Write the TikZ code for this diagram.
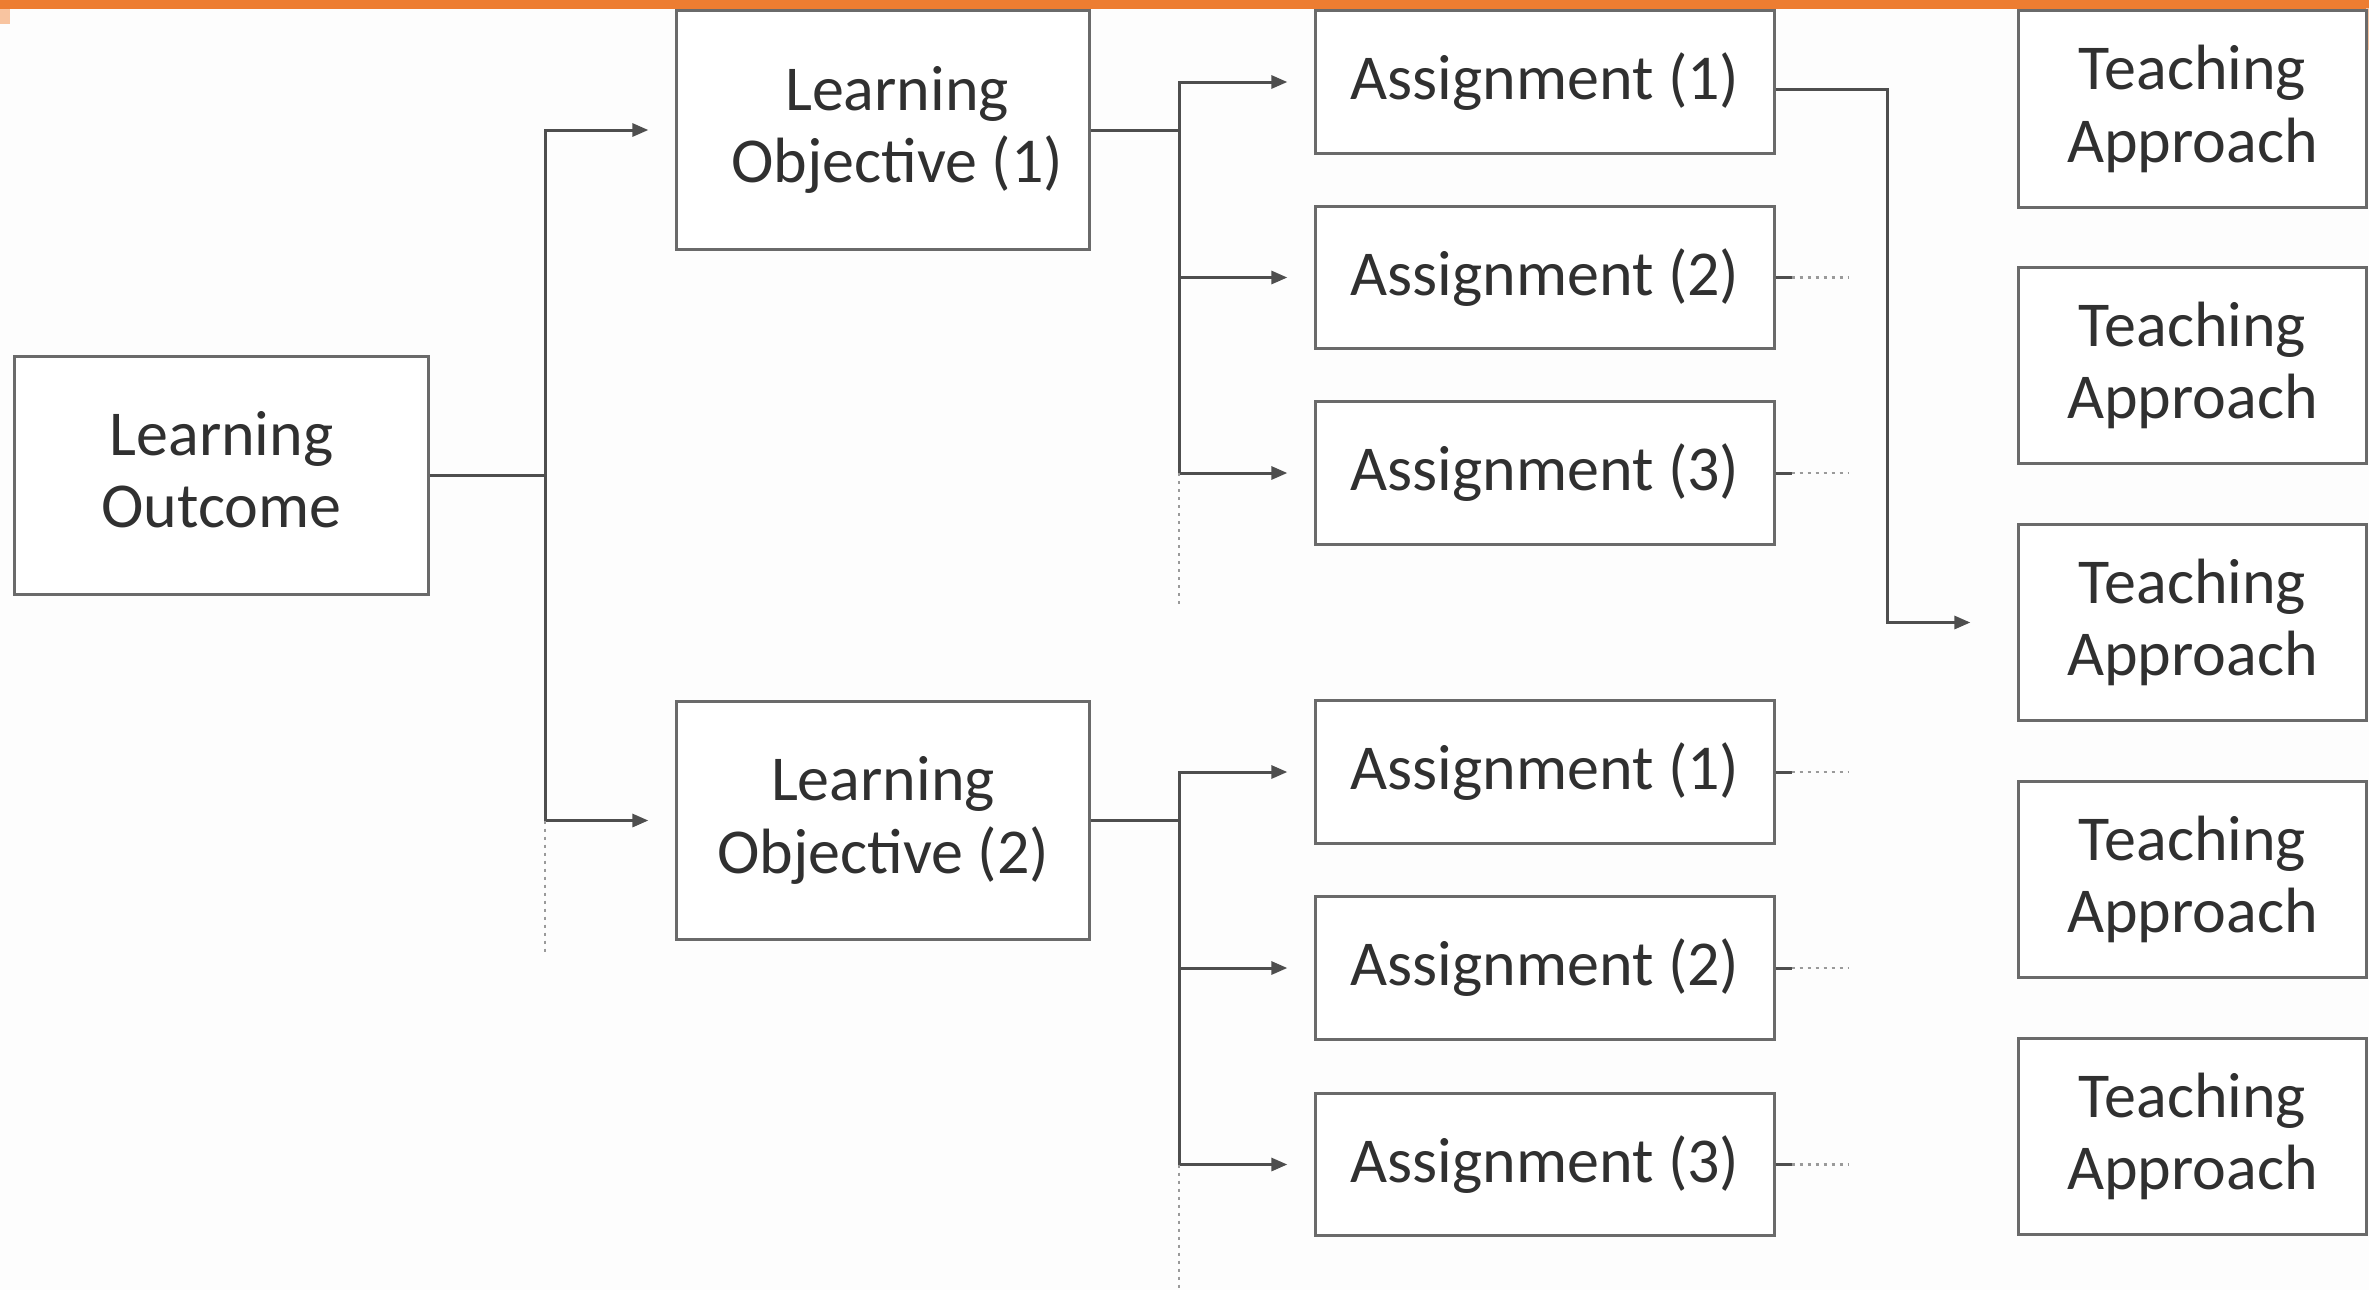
\documentclass[tikz,border=0pt]{standalone}
\usepackage{fontspec}
\setmainfont{Carlito}
\usetikzlibrary{arrows.meta}
\definecolor{bg}{HTML}{FDFDFD}
\definecolor{orng}{HTML}{ED7D31}
\definecolor{lorng}{HTML}{F8C4A0}
\definecolor{boxc}{HTML}{6A6A6A}
\definecolor{linec}{HTML}{4E4E4E}
\definecolor{dotc}{HTML}{9A9A9A}
\definecolor{txt}{HTML}{303030}
\begin{document}
\begin{tikzpicture}[x=0.01cm,y=-0.01cm,
  box/.style={draw=boxc, line width=0.03cm, fill=white, text=txt, align=center, inner sep=0pt, font=\fontsize{18.2}{20.6}\selectfont},
  bigbox/.style={box, minimum width=4.12cm, minimum height=2.38cm},
  abox/.style={box, minimum width=4.58cm, minimum height=1.42cm},
  tbox/.style={box, minimum width=3.47cm, minimum height=1.96cm},
  conn/.style={draw=linec, line width=0.03cm},
  arr/.style={conn, -{Triangle[length=0.16cm,width=0.13cm]}, shorten >=0.27cm},
  dots/.style={draw=dotc, line width=0.025cm, dash pattern=on 0.03cm off 0.05cm}]
\fill[bg] (0,0) rectangle (2369,1290);
\useasboundingbox (0,0) rectangle (2369,1290);
\fill[orng] (0,0) rectangle (2369,9);
\fill[lorng] (0,9) rectangle (10,24);
\fill[lorng] (2366,8) rectangle (2369,50);

% nodes
\node[bigbox, minimum width=4.13cm, minimum height=2.37cm] (lo) at (221.5,475.5) {Learning\\Outcome\rule[-0.12cm]{0pt}{0pt}};
\node[bigbox] (lo1) at (883,130) {\hspace*{0.28cm}Learning\\\hspace*{0.28cm}Objective (1)};
\node[bigbox] (lo2) at (883,820.5) {Learning\\Objective (2)};

\node[abox] (a1) at (1545,82) {Assignment (1)};
\node[abox] (a2) at (1545,277.5) {Assignment (2)};
\node[abox] (a3) at (1545,473) {Assignment (3)};
\node[abox] (b1) at (1545,772) {Assignment (1)};
\node[abox] (b2) at (1545,968) {Assignment (2)};
\node[abox] (b3) at (1545,1164.5) {Assignment (3)};

\node[tbox] (t1) at (2192.5,109) {Teaching\\Approach};
\node[tbox] (t2) at (2192.5,365.5) {Teaching\\Approach};
\node[tbox] (t3) at (2192.5,622.5) {Teaching\\Approach};
\node[tbox] (t4) at (2192.5,879.5) {Teaching\\Approach};
\node[tbox] (t5) at (2192.5,1136.5) {Teaching\\Approach};

% junctions
\coordinate (j0) at (545,475.5);
\coordinate (j1) at (1179,130);
\coordinate (j2) at (1179,820.5);
\coordinate (j0e) at (545,952);
\coordinate (j1e) at (1179,604);
\coordinate (j2e) at (1179,1290);

% outcome -> objectives
\draw[conn] (lo.east) -- (j0);
\draw[arr] (j0) |- (lo1.west);
\draw[arr] (j0) |- (lo2.west);
\draw[dots] (j0 |- lo2.west) -- (j0e);

% objective 1 -> assignments
\draw[conn] (lo1.east) -- (j1);
\draw[arr] (j1) |- (a1.west);
\draw[arr] (j1) |- (a2.west);
\draw[arr] (j1) |- (a3.west);
\draw[dots] (j1 |- a3.west) -- (j1e);

% objective 2 -> assignments
\draw[conn] (lo2.east) -- (j2);
\draw[arr] (j2) |- (b1.west);
\draw[arr] (j2) |- (b2.west);
\draw[arr] (j2) |- (b3.west);
\draw[dots] (j2 |- b3.west) -- (j2e);

% assignment 1 -> teaching approach 3
\draw[arr, shorten >=0.47cm] ([yshift=-0.07cm]a1.east) -| (1887,400) |- (t3.west);

% stubs
\foreach \n in {a2,a3,b1,b2,b3}{
  \draw[conn] (\n.east) -- ++(16,0);
  \draw[dots] ([xshift=0.16cm]\n.east) -- ++(57,0);
}
\end{tikzpicture}
\end{document}
